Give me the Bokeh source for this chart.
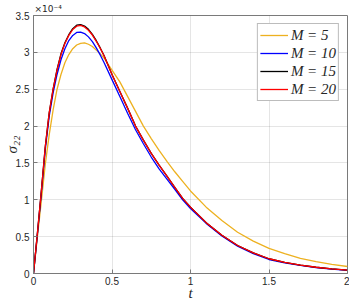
from bokeh.plotting import figure
from bokeh.models import Range1d, FixedTicker, Legend, LegendItem, Title
from bokeh.embed import file_html
from bokeh.resources import INLINE

# time values
t = [0, 0.025, 0.05, 0.075, 0.1, 0.125, 0.15, 0.175, 0.2, 0.225, 0.25, 0.275, 0.3,
     0.325, 0.35, 0.375, 0.4, 0.425, 0.45, 0.5, 0.55, 0.6, 0.65, 0.7, 0.75, 0.8,
     0.85, 0.9, 0.95, 1.0, 1.1, 1.2, 1.3, 1.4, 1.5, 1.6, 1.7, 1.8, 1.9, 2.0]

# sigma_22 values in units of 1e-4
s_M5 = [0, 0.50, 0.98, 1.48, 1.88, 2.22, 2.50, 2.70, 2.86, 2.97, 3.05, 3.10, 3.123,
        3.128, 3.11, 3.08, 3.03, 2.98, 2.92, 2.76, 2.60, 2.40, 2.20, 2.00, 1.83, 1.67,
        1.52, 1.38, 1.25, 1.12, 0.90, 0.72, 0.56, 0.44, 0.34, 0.27, 0.205, 0.16, 0.125, 0.095]
s_M10 = [0, 0.53, 1.09, 1.68, 2.13, 2.45, 2.70, 2.90, 3.05, 3.16, 3.23, 3.27, 3.275,
         3.255, 3.21, 3.145, 3.06, 2.965, 2.86, 2.63, 2.40, 2.17, 1.95, 1.76, 1.58, 1.42,
         1.28, 1.14, 1.00, 0.88, 0.68, 0.51, 0.37, 0.27, 0.19, 0.145, 0.11, 0.08, 0.058, 0.042]
s_M15 = [0, 0.55, 1.12, 1.72, 2.18, 2.50, 2.77, 2.98, 3.13, 3.24, 3.322, 3.368, 3.377,
         3.357, 3.312, 3.245, 3.158, 3.06, 2.955, 2.70, 2.47, 2.24, 2.00, 1.81, 1.63, 1.47,
         1.32, 1.17, 1.02, 0.90, 0.69, 0.52, 0.38, 0.28, 0.20, 0.15, 0.115, 0.085, 0.062, 0.045]
s_M20 = [0, 0.55, 1.12, 1.72, 2.18, 2.50, 2.76, 2.97, 3.12, 3.23, 3.31, 3.355, 3.365,
         3.345, 3.30, 3.235, 3.15, 3.055, 2.95, 2.70, 2.47, 2.24, 2.00, 1.81, 1.63, 1.47,
         1.32, 1.17, 1.02, 0.90, 0.69, 0.52, 0.38, 0.28, 0.20, 0.15, 0.115, 0.085, 0.062, 0.045]

series = [("M = 5", s_M5, "#EDB120"), ("M = 10", s_M10, "#0000FF"),
          ("M = 15", s_M15, "#000000"), ("M = 20", s_M20, "#FF0000")]

x_ticks = [0, 0.5, 1, 1.5, 2]
x_labels = ["0", "0.5", "1", "1.5", "2"]
y_ticks = [0, 0.5, 1, 1.5, 2, 2.5, 3, 3.5]
y_labels = ["0", "0.5", "1", "1.5", "2", "2.5", "3", "3.5"]

AX = "#7a7a7a"
TXT = "#262626"

p = figure(width=349, height=303, output_backend="svg", toolbar_location=None,
           x_range=Range1d(0, 2), y_range=Range1d(0, 3.5),
           min_border_left=20, min_border_right=2, min_border_top=6, min_border_bottom=20)
p.outline_line_color = AX
p.background_fill_color = "white"
p.border_fill_color = "white"

for ax, ticks, labels in ((p.xaxis[0], x_ticks, x_labels), (p.yaxis[0], y_ticks, y_labels)):
    ax.ticker = FixedTicker(ticks=ticks)
    ax.major_label_overrides = {tk: lb for tk, lb in zip(ticks, labels)}
    ax.major_tick_in = 4
    ax.major_tick_out = 0
    ax.minor_tick_line_color = None
    ax.axis_line_color = AX
    ax.major_tick_line_color = AX
    ax.major_label_text_color = TXT
    ax.major_label_text_font = "Liberation Sans"
    ax.major_label_text_font_size = "10px"
    ax.axis_label_text_font = "Liberation Serif"
    ax.axis_label_text_font_style = "italic"
    ax.axis_label_text_font_size = "15px"
    ax.axis_label_text_color = TXT

p.xaxis.major_label_standoff = 3
p.yaxis.major_label_standoff = 4
p.xaxis.axis_label_standoff = -3
p.yaxis.axis_label_standoff = -7
p.xaxis.axis_label = "t"
p.yaxis.axis_label = "σ₂₂"

p.grid.grid_line_color = "#262626"
p.grid.grid_line_alpha = 0.12
p.xgrid.ticker = FixedTicker(ticks=x_ticks)
p.ygrid.ticker = FixedTicker(ticks=y_ticks)

items = []
for name, ys, col in series:
    r = p.line(t, ys, line_color=col, line_width=1.3)
    items.append(LegendItem(label=name, renderers=[r]))

leg = Legend(items=items, location="top_right", margin=8, padding=2, spacing=0,
             label_height=18, glyph_height=18, glyph_width=28, label_standoff=3,
             label_text_font="Liberation Serif", label_text_font_style="italic",
             label_text_font_size="15px", label_text_color=TXT,
             border_line_color="#7a7a7a", border_line_width=1,
             background_fill_color="white", background_fill_alpha=1)
p.add_layout(leg, "center")

# exponent of the y axis
expo = Title(text="×10⁻⁴", align="left", text_font="DejaVu Sans", text_font_size="9px",
             text_font_style="normal", text_color=TXT, standoff=3, offset=1)
p.add_layout(expo, "above")

open("out.html", "w").write(file_html(p, INLINE))
